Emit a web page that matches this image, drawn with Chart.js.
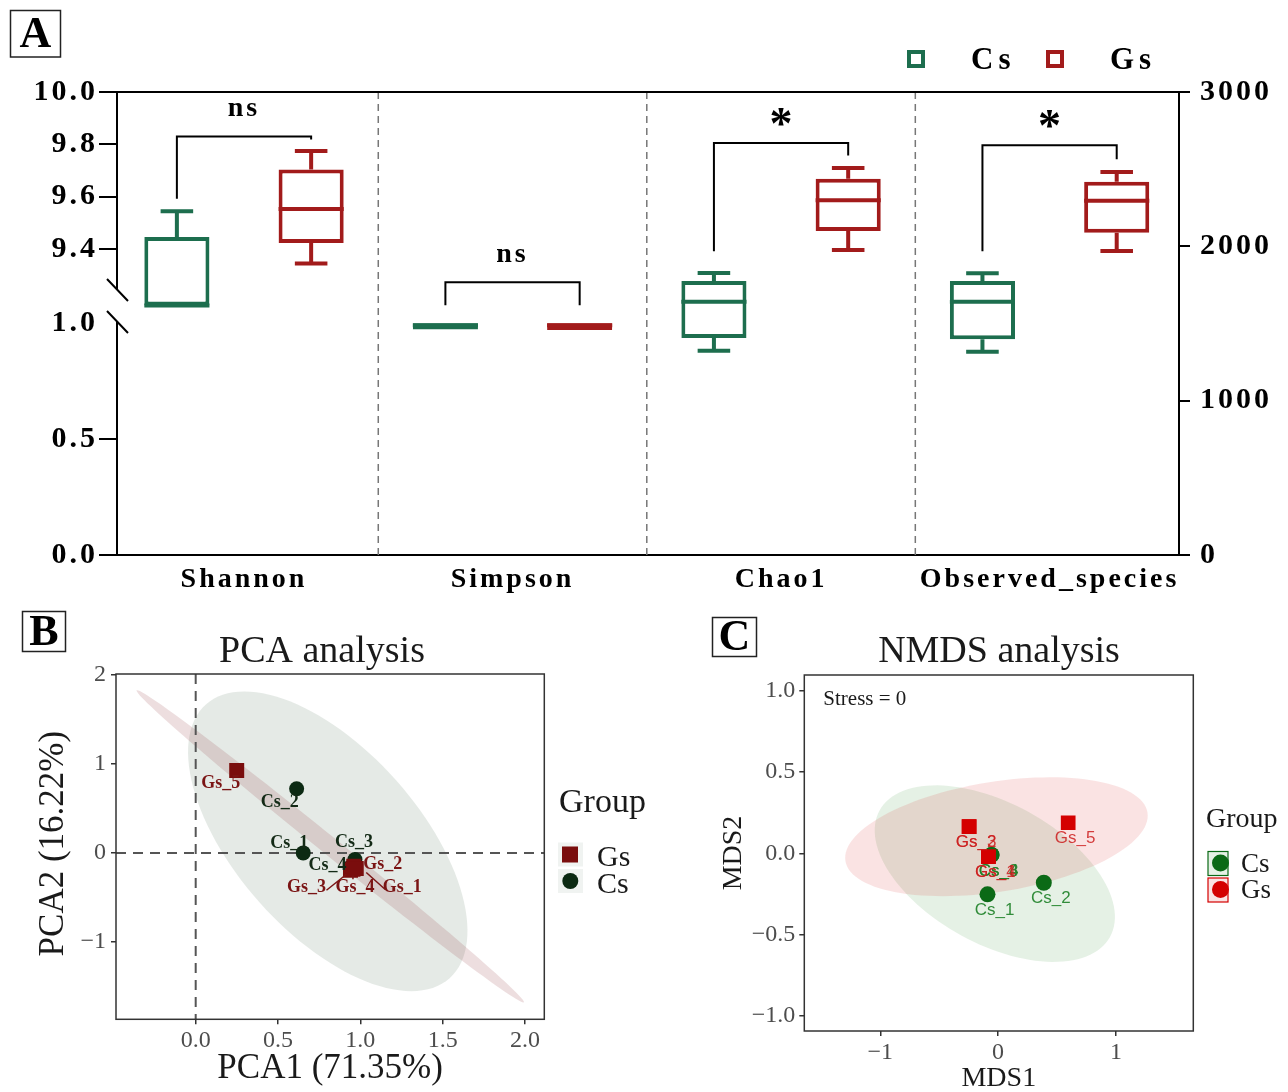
<!DOCTYPE html>
<html>
<head>
<meta charset="utf-8">
<title>Alpha / beta diversity</title>
<script src="https://cdn.jsdelivr.net/npm/chart.js@4.4.1/dist/chart.umd.min.js"></script>
<style>
  html, body { margin: 0; padding: 0; background: #ffffff; }
  #page { position: relative; width: 1288px; height: 1092px; overflow: hidden; background: #fff; }
  canvas { position: absolute; display: block; }
  #chartA { left: 0; top: 0; }
  #chartB { left: 0; top: 600px; }
  #chartC { left: 700px; top: 600px; }
</style>
</head>
<body>
<div id="page">
  <canvas id="chartA" width="1288" height="600"></canvas>
  <canvas id="chartB" width="700" height="492"></canvas>
  <canvas id="chartC" width="588" height="492"></canvas>
</div>
<script>
/* ----- data: panel A (alpha diversity) ----- */
const categories = ['Shannon', 'Simpson', 'Chao1', 'Observed_species'];
const groups = ['Cs', 'Gs'];
// [min, q1, median, q3, max]
const csBox = [
  [9.184, 9.184, 9.184, 9.446, 9.544],
  [0.972, 0.972, 0.990, 0.999, 0.999],
  [1324, 1406, 1641, 1775, 1827],
  [1317, 1398, 1641, 1775, 1825]
];
const gsBox = [
  [9.344, 9.423, 9.553, 9.704, 9.774],
  [0.970, 0.970, 0.990, 0.999, 0.999],
  [1976, 2100, 2298, 2438, 2507],
  [1969, 2088, 2296, 2418, 2482]
];
const sigLabels = ['ns', 'ns', '*', '*'];
// [bracket level, Cs leg end, Gs leg end]
const brackets = [
  [9.830, 9.592, 9.818],
  [1.175, 1.076, 1.076],
  [2670, 1968, 2589],
  [2655, 1968, 2564]
];
const leftHighTicks = [9.4, 9.6, 9.8, 10.0];
const leftLowTicks = [0, 0.5, 1.0];
const rightTicks = [0, 1000, 2000, 3000];

/* ----- data: panel B (PCA) ----- */
const pcaGsNames = ['Gs_1', 'Gs_2', 'Gs_3', 'Gs_4', 'Gs_5'];
const pcaGsPoints = [[0.975, -0.175], [0.960, -0.150], [0.940, -0.195], [0.955, -0.185], [0.249, 0.925]];
const pcaCsNames = ['Cs_1', 'Cs_2', 'Cs_3', 'Cs_4'];
const pcaCsPoints = [[0.653, 0.0], [0.613, 0.72], [0.967, -0.075], [0.940, -0.160]];
const pcaXTicks = [0, 0.5, 1, 1.5, 2];
const pcaYTicks = [-1, 0, 1, 2];
// confidence ellipses: centre + two conjugate semi-axes, in data units
const pcaEllipseCs = { center: [0.802, 0.13], a: [0.740, -1.538], b: [0.415, 0.686] };
const pcaEllipseGs = { center: [0.817, 0.074], a: [1.176, -1.753], b: [0.0343, 0.0787] };

/* ----- data: panel C (NMDS) ----- */
const nmdsGsNames = ['Gs_1', 'Gs_2', 'Gs_3', 'Gs_4', 'Gs_5'];
const nmdsGsPoints = [[-0.082, -0.021], [-0.246, 0.164], [-0.246, 0.164], [-0.082, -0.021], [0.595, 0.188]];
const nmdsCsNames = ['Cs_1', 'Cs_2', 'Cs_3', 'Cs_4'];
const nmdsCsPoints = [[-0.090, -0.252], [0.388, -0.181], [-0.056, -0.010], [-0.056, -0.010]];
const nmdsXTicks = [-1, 0, 1];
const nmdsYTicks = [-1, -0.5, 0, 0.5, 1];
const nmdsEllipseCs = { center: [-0.028, -0.125], a: [0.978, -0.389], b: [0.288, 0.379] };
const nmdsEllipseGs = { center: [-0.014, 0.102], a: [1.282, 0.149], b: [0.074, -0.334] };
const nmdsStress = 0;

/* ----- styles ----- */
const serif = "'Liberation Serif', 'Times New Roman', serif";
const sans = "'Liberation Sans', Arial, sans-serif";
const groupColors = ['#1d6e4e', '#a21b1b'];
const indexScale = ['yHigh', 'yLow', 'yRight', 'yRight'];
const minus = s => String(s).replace('-', '\u2212');

/* ----- helpers ----- */
function drawEllipse(chart, e, fill) {
  const { ctx, scales: { x, y } } = chart;
  ctx.beginPath();
  for (let k = 0; k <= 120; k++) {
    const t = (k / 120) * Math.PI * 2;
    const vx = e.center[0] + e.a[0] * Math.cos(t) + e.b[0] * Math.sin(t);
    const vy = e.center[1] + e.a[1] * Math.cos(t) + e.b[1] * Math.sin(t);
    const px = x.getPixelForValue(vx), py = y.getPixelForValue(vy);
    if (k) ctx.lineTo(px, py); else ctx.moveTo(px, py);
  }
  ctx.closePath();
  ctx.fillStyle = fill;
  ctx.fill();
}

function panelLetter(ctx, letter, x, y, w, h) {
  ctx.save();
  ctx.strokeStyle = '#222';
  ctx.lineWidth = 1.5;
  ctx.strokeRect(x, y, w, h);
  ctx.fillStyle = '#000';
  ctx.font = `bold 44px ${serif}`;
  ctx.textAlign = 'center';
  ctx.textBaseline = 'middle';
  ctx.fillText(letter, x + w / 2, y + h / 2 + 2);
  ctx.restore();
}

/* ======================= PANEL A ======================= */
const boxSets = [];
groups.forEach((g, gi) => {
  const stats = gi === 0 ? csBox : gsBox;
  ['yHigh', 'yLow', 'yRight'].forEach(axisId => {
    const pts = [];
    stats.forEach((s, i) => {
      if (indexScale[i] === axisId) pts.push({ x: i, y: [s[1], s[3]] });
    });
    boxSets.push({
      label: g, group: gi, stats, yAxisID: axisId, data: pts,
      backgroundColor: '#ffffff', borderColor: groupColors[gi], borderWidth: 4,
      borderSkipped: false, skipNull: true, categoryPercentage: 1, barPercentage: 0.485
    });
  });
});

const spacing = { id: 'spacing', beforeUpdate(c) { c.ctx.letterSpacing = '3px'; }, beforeDraw(c) { c.ctx.letterSpacing = '3px'; } };

const boxPlugin = {
  id: 'boxPlugin',
  beforeDatasetsDraw(chart) {
    const { ctx, chartArea: ca, scales: { x } } = chart;
    ctx.save();
    ctx.strokeStyle = '#777';
    ctx.lineWidth = 1.5;
    ctx.setLineDash([7, 5]);
    for (let i = 0; i < categories.length - 1; i++) {
      const px = x.getPixelForValue(i + 0.5);
      ctx.beginPath(); ctx.moveTo(px, ca.top); ctx.lineTo(px, ca.bottom); ctx.stroke();
    }
    ctx.restore();
  },
  afterDatasetsDraw(chart) {
    const ctx = chart.ctx;
    const centers = categories.map(() => []);
    chart.data.datasets.forEach((ds, di) => {
      const meta = chart.getDatasetMeta(di);
      const ys = chart.scales[ds.yAxisID];
      const py = v => ys.getPixelForValue(v);
      meta.data.forEach((bar, j) => {
        const i = ds.data[j].x;
        const s = ds.stats[i];
        const { x, width } = bar.getProps(['x', 'width'], true);
        centers[i][ds.group] = x;
        const h = width / 2, cap = width / 4;
        ctx.save();
        ctx.strokeStyle = ds.borderColor;
        ctx.lineWidth = 4;
        ctx.beginPath();
        ctx.moveTo(x - h, py(s[2])); ctx.lineTo(x + h, py(s[2]));
        if (s[4] > s[3]) {
          ctx.moveTo(x, py(s[3])); ctx.lineTo(x, py(s[4]));
          ctx.moveTo(x - cap, py(s[4])); ctx.lineTo(x + cap, py(s[4]));
        }
        if (s[0] < s[1]) {
          ctx.moveTo(x, py(s[1])); ctx.lineTo(x, py(s[0]));
          ctx.moveTo(x - cap, py(s[0])); ctx.lineTo(x + cap, py(s[0]));
        }
        ctx.stroke();
        ctx.restore();
      });
    });
    // significance brackets
    categories.forEach((c, i) => {
      const ys = chart.scales[indexScale[i]];
      const [level, leftEnd, rightEnd] = brackets[i];
      const x0 = centers[i][0], x1 = centers[i][1];
      const yb = ys.getPixelForValue(level);
      ctx.save();
      ctx.strokeStyle = '#000';
      ctx.lineWidth = 2;
      ctx.beginPath();
      ctx.moveTo(x0, ys.getPixelForValue(leftEnd));
      ctx.lineTo(x0, yb);
      ctx.lineTo(x1, yb);
      ctx.lineTo(x1, ys.getPixelForValue(rightEnd));
      ctx.stroke();
      ctx.fillStyle = '#000';
      ctx.textAlign = 'center';
      ctx.textBaseline = 'alphabetic';
      if (sigLabels[i] === '*') {
        ctx.letterSpacing = '0px';
        ctx.font = `bold 46px ${serif}`;
        ctx.fillText('*', (x0 + x1) / 2, yb - 4);
      } else {
        ctx.font = `bold 28px ${serif}`;
        ctx.fillText(sigLabels[i], (x0 + x1) / 2, yb - 20);
      }
      ctx.restore();
    });
  },
  afterDraw(chart) {
    const { ctx, chartArea: ca, scales } = chart;
    ctx.save();
    // top frame line
    ctx.strokeStyle = '#000';
    ctx.lineWidth = 2;
    ctx.beginPath(); ctx.moveTo(ca.left, ca.top); ctx.lineTo(ca.right, ca.top); ctx.stroke();
    // axis break
    const yb = scales.yHigh.bottom;
    ctx.fillStyle = '#fff';
    ctx.fillRect(ca.left - 8, yb - 16, 16, 32);
    ctx.beginPath();
    [-16, 16].forEach(d => {
      ctx.moveTo(ca.left - 10, yb + d - 11);
      ctx.lineTo(ca.left + 11, yb + d + 11);
    });
    ctx.stroke();
    // legend
    ctx.letterSpacing = '5px';
    ctx.font = `bold 31px ${serif}`;
    ctx.textBaseline = 'middle';
    ctx.textAlign = 'left';
    const lx = [ca.right - 263, ca.right - 124];
    const ly = ca.top - 33;
    groups.forEach((g, gi) => {
      ctx.strokeStyle = groupColors[gi];
      ctx.lineWidth = 4;
      ctx.strokeRect(lx[gi] - 7, ly - 7, 14, 14);
      ctx.fillStyle = '#000';
      ctx.fillText(g, lx[gi] + 55, ly + 2);
    });
    ctx.restore();
    ctx.save();
    ctx.letterSpacing = '0px';
    panelLetter(ctx, 'A', 10.5, 10.5, 50, 46.5);
    ctx.restore();
  }
};

const tickFontA = { family: serif, size: 30, weight: 'bold' };
const tickMarks = len => ({ display: true, drawOnChartArea: false, drawTicks: true, tickLength: len, color: '#000', lineWidth: 2 });

new Chart(document.getElementById('chartA'), {
  type: 'bar',
  data: { datasets: boxSets },
  options: {
    responsive: false,
    animation: false,
    events: [],
    layout: { padding: { top: 92, left: 0, right: 0, bottom: 0 } },
    plugins: { legend: { display: false }, tooltip: { enabled: false } },
    scales: {
      x: {
        type: 'linear', min: -0.473, max: 3.482, offset: false, stacked: false,
        afterBuildTicks: s => { s.ticks = categories.map((c, i) => ({ value: i })); },
        afterFit: s => { s.height = 45; },
        grid: { display: false, drawTicks: false },
        border: { display: true, color: '#000', width: 2 },
        ticks: { autoSkip: false, maxRotation: 0, padding: 8, color: '#000',
          font: { family: serif, size: 28, weight: 'bold' }, callback: v => categories[v] }
      },
      // lower segment of the broken left axis (declared first so it stacks below)
      yLow: {
        type: 'linear', position: 'left', stack: 'left', stackWeight: 249, min: 0, max: 1.073, stacked: false,
        afterBuildTicks: s => { s.ticks = leftLowTicks.map(v => ({ value: v })); },
        afterFit: s => { s.width = 117; },
        grid: Object.assign(tickMarks(18), { color: c => (c.tick && c.tick.value === 1 ? 'rgba(0,0,0,0)' : '#000') }),
        border: { display: true, color: '#000', width: 2 },
        ticks: { padding: 1, color: '#000', font: tickFontA, callback: v => v.toFixed(1) }
      },
      yHigh: {
        type: 'linear', position: 'left', stack: 'left', stackWeight: 214, min: 9.182, max: 10, stacked: false,
        afterBuildTicks: s => { s.ticks = leftHighTicks.map(v => ({ value: v })); },
        afterFit: s => { s.width = 117; },
        grid: tickMarks(18),
        border: { display: true, color: '#000', width: 2 },
        ticks: { padding: 1, color: '#000', font: tickFontA, callback: v => v.toFixed(1) }
      },
      yRight: {
        type: 'linear', position: 'right', min: 0, max: 3000, stacked: false,
        afterBuildTicks: s => { s.ticks = rightTicks.map(v => ({ value: v })); },
        afterFit: s => { s.width = 109; },
        grid: tickMarks(11),
        border: { display: true, color: '#000', width: 2 },
        ticks: { padding: 10, color: '#000', font: tickFontA, callback: v => String(v) }
      }
    }
  },
  plugins: [spacing, boxPlugin]
});

/* ======================= PANEL B ======================= */
const pcaColors = { Gs: '#7a0d0d', Cs: '#0c2a13' };
const pcaLabelColors = { Gs: '#7a1414', Cs: '#132a16' };
const pcaNudge = {
  Gs_1: [46, 19], Gs_2: [29, -2], Gs_3: [-44, 17], Gs_4: [2, 18], Gs_5: [-16, 13],
  Cs_1: [-14, -10], Cs_2: [-17, 14], Cs_3: [-1, -17], Cs_4: [-23, -2]
};
const pcaLeaders = { Gs_1: [[10, 4], [29, 21]], Gs_3: [[-4, 4], [-24, 20]], Gs_4: [[0, 6], [0, 10]] };

const pcaPlugin = {
  id: 'pcaDecor',
  beforeDatasetsDraw(chart) {
    const { ctx, chartArea: ca, scales: { x, y } } = chart;
    ctx.save();
    ctx.beginPath(); ctx.rect(ca.left, ca.top, ca.width, ca.height); ctx.clip();
    drawEllipse(chart, pcaEllipseCs, 'rgba(40,80,50,0.12)');
    drawEllipse(chart, pcaEllipseGs, 'rgba(128,20,30,0.14)');
    ctx.setLineDash([10, 7]);
    ctx.strokeStyle = '#555';
    ctx.lineWidth = 2;
    const x0 = x.getPixelForValue(0), y0 = y.getPixelForValue(0);
    ctx.beginPath();
    ctx.moveTo(x0, ca.top); ctx.lineTo(x0, ca.bottom);
    ctx.moveTo(ca.left, y0); ctx.lineTo(ca.right, y0);
    ctx.stroke();
    ctx.restore();
  },
  afterDatasetsDraw(chart) {
    const ctx = chart.ctx;
    ctx.save();
    ctx.font = `bold 18px ${serif}`;
    ctx.textAlign = 'center';
    ctx.textBaseline = 'middle';
    chart.data.datasets.forEach((ds, di) => {
      chart.getDatasetMeta(di).data.forEach((pt, j) => {
        const name = ds.names[j];
        const [dx, dy] = pcaNudge[name];
        const lead = pcaLeaders[name];
        if (lead) {
          ctx.strokeStyle = pcaLabelColors[ds.label];
          ctx.lineWidth = 1.5;
          ctx.beginPath();
          ctx.moveTo(pt.x + lead[0][0], pt.y + lead[0][1]);
          ctx.lineTo(pt.x + lead[1][0], pt.y + lead[1][1]);
          ctx.stroke();
        }
        ctx.fillStyle = pcaLabelColors[ds.label];
        ctx.fillText(name, pt.x + dx, pt.y + dy);
      });
    });
    ctx.restore();
  },
  afterDraw(chart) {
    const { ctx, chartArea: ca } = chart;
    ctx.save();
    ctx.strokeStyle = '#333';
    ctx.lineWidth = 1.5;
    ctx.strokeRect(ca.left, ca.top, ca.width, ca.height);
    ctx.fillStyle = '#1a1a1a';
    ctx.textAlign = 'center';
    ctx.textBaseline = 'middle';
    ctx.font = `35px ${serif}`;
    ctx.fillText('PCA1 (71.35%)', (ca.left + ca.right) / 2, ca.bottom + 50);
    ctx.save();
    ctx.translate(54, (ca.top + ca.bottom) / 2 - 3);
    ctx.rotate(-Math.PI / 2);
    ctx.fillText('PCA2 (16.22%)', 0, 0);
    ctx.restore();
    ctx.textBaseline = 'alphabetic';
    ctx.font = `38px ${serif}`;
    ctx.fillText('PCA analysis', 322, 62);
    // legend
    ctx.textAlign = 'left';
    ctx.textBaseline = 'middle';
    ctx.font = `34px ${serif}`;
    ctx.fillText('Group', 559, 203);
    ctx.font = `30px ${serif}`;
    const keys = [['Gs', 'rect', 254.5], ['Cs', 'circle', 281]];
    keys.forEach(([g, style, ky]) => {
      ctx.fillStyle = 'rgba(40,80,50,0.07)';
      ctx.fillRect(558, ky - 12, 25, 24);
      ctx.fillStyle = pcaColors[g];
      if (style === 'rect') ctx.fillRect(562, ky - 8, 16, 16);
      else { ctx.beginPath(); ctx.arc(570.3, ky, 8, 0, Math.PI * 2); ctx.fill(); }
      ctx.fillStyle = '#1a1a1a';
      ctx.fillText(g, 597, ky + 4);
    });
    ctx.restore();
    panelLetter(ctx, 'B', 22.5, 11.5, 43, 40);
  }
};

const axisTicksBC = len => ({
  grid: { display: true, drawOnChartArea: false, drawTicks: true, tickLength: len, color: '#333', lineWidth: 1.5 },
  border: { display: false }
});

new Chart(document.getElementById('chartB'), {
  type: 'scatter',
  data: {
    datasets: [
      { label: 'Gs', names: pcaGsNames, data: pcaGsPoints.map(([x, y]) => ({ x, y })),
        pointStyle: 'rect', pointRadius: 10.6, backgroundColor: pcaColors.Gs, borderColor: pcaColors.Gs, borderWidth: 0 },
      { label: 'Cs', names: pcaCsNames, data: pcaCsPoints.map(([x, y]) => ({ x, y })),
        pointStyle: 'circle', pointRadius: 7.5, backgroundColor: pcaColors.Cs, borderColor: pcaColors.Cs, borderWidth: 0 }
    ]
  },
  options: {
    responsive: false,
    animation: false,
    events: [],
    layout: { padding: { top: 74, right: 155.7, left: 0, bottom: 0 } },
    plugins: { legend: { display: false }, tooltip: { enabled: false } },
    scales: {
      x: Object.assign(axisTicksBC(5), {
        type: 'linear', min: -0.484, max: 2.117,
        afterBuildTicks: s => { s.ticks = pcaXTicks.map(v => ({ value: v })); },
        afterFit: s => { s.height = 72.7; },
        ticks: { padding: 2, color: '#4d4d4d', font: { family: serif, size: 24 }, callback: v => minus(v.toFixed(1)) }
      }),
      y: Object.assign(axisTicksBC(5), {
        type: 'linear', min: -1.87, max: 2.01,
        afterBuildTicks: s => { s.ticks = pcaYTicks.map(v => ({ value: v })); },
        afterFit: s => { s.width = 116; },
        ticks: { padding: 5, color: '#4d4d4d', font: { family: serif, size: 24 }, callback: v => minus(v) }
      })
    }
  },
  plugins: [pcaPlugin]
});

/* ======================= PANEL C ======================= */
const nmdsColors = { Gs: '#d40000', Cs: '#0b6a16' };
const nmdsLabelColors = { Gs: 'rgba(205,30,30,0.85)', Cs: 'rgba(30,130,40,0.9)' };

const nmdsPlugin = {
  id: 'nmdsDecor',
  beforeDatasetsDraw(chart) {
    const { ctx, chartArea: ca } = chart;
    ctx.save();
    ctx.beginPath(); ctx.rect(ca.left, ca.top, ca.width, ca.height); ctx.clip();
    drawEllipse(chart, nmdsEllipseCs, 'rgba(40,140,40,0.12)');
    drawEllipse(chart, nmdsEllipseGs, 'rgba(220,40,40,0.13)');
    ctx.restore();
  },
  afterDatasetsDraw(chart) {
    const ctx = chart.ctx;
    ctx.save();
    ctx.font = `17px ${sans}`;
    ctx.textAlign = 'center';
    ctx.textBaseline = 'middle';
    // Cs labels first so the Gs labels sit on top
    [1, 0].forEach(di => {
      const ds = chart.data.datasets[di];
      chart.getDatasetMeta(di).data.forEach((pt, j) => {
        ctx.fillStyle = nmdsLabelColors[ds.label];
        ctx.fillText(ds.names[j], pt.x + 7, pt.y + 16);
      });
    });
    ctx.restore();
  },
  afterDraw(chart) {
    const { ctx, chartArea: ca } = chart;
    ctx.save();
    ctx.strokeStyle = '#333';
    ctx.lineWidth = 1.5;
    ctx.strokeRect(ca.left, ca.top, ca.width, ca.height);
    ctx.fillStyle = '#1a1a1a';
    ctx.textAlign = 'left';
    ctx.textBaseline = 'middle';
    ctx.font = `21px ${serif}`;
    ctx.fillText('Stress = ' + nmdsStress, ca.left + 19, ca.top + 24);
    ctx.textAlign = 'center';
    ctx.font = `28px ${serif}`;
    ctx.fillText('MDS1', (ca.left + ca.right) / 2, ca.bottom + 48);
    ctx.save();
    ctx.translate(34, (ca.top + ca.bottom) / 2);
    ctx.rotate(-Math.PI / 2);
    ctx.fillText('MDS2', 0, 0);
    ctx.restore();
    ctx.textBaseline = 'alphabetic';
    ctx.font = `38px ${serif}`;
    ctx.fillText('NMDS analysis', 299, 62);
    // legend
    ctx.textAlign = 'left';
    ctx.textBaseline = 'middle';
    ctx.font = `28px ${serif}`;
    ctx.fillText('Group', 506, 220);
    ctx.font = `27px ${serif}`;
    const keys = [['Cs', 263.5, 'rgba(40,140,40,0.12)'], ['Gs', 290, 'rgba(220,40,40,0.13)']];
    keys.forEach(([g, ky, bg]) => {
      ctx.fillStyle = bg;
      ctx.fillRect(508, ky - 12, 20, 24);
      ctx.strokeStyle = nmdsColors[g];
      ctx.lineWidth = 1.2;
      ctx.strokeRect(508, ky - 12, 20, 24);
      ctx.fillStyle = nmdsColors[g];
      ctx.beginPath(); ctx.arc(520.5, ky - 0.5, 8.5, 0, Math.PI * 2); ctx.fill();
      ctx.fillStyle = '#1a1a1a';
      ctx.fillText(g, 541, ky + 1);
    });
    ctx.restore();
    panelLetter(ctx, 'C', 12.5, 17.5, 44, 39);
  }
};

new Chart(document.getElementById('chartC'), {
  type: 'scatter',
  data: {
    datasets: [
      { label: 'Gs', names: nmdsGsNames, data: nmdsGsPoints.map(([x, y]) => ({ x, y })),
        pointStyle: 'rect', pointRadius: 10.4, backgroundColor: nmdsColors.Gs, borderColor: nmdsColors.Gs, borderWidth: 0 },
      { label: 'Cs', names: nmdsCsNames, data: nmdsCsPoints.map(([x, y]) => ({ x, y })),
        pointStyle: 'circle', pointRadius: 8, backgroundColor: nmdsColors.Cs, borderColor: nmdsColors.Cs, borderWidth: 0 }
    ]
  },
  options: {
    responsive: false,
    animation: false,
    events: [],
    layout: { padding: { top: 75, right: 94.7, left: 0, bottom: 0 } },
    plugins: { legend: { display: false }, tooltip: { enabled: false } },
    scales: {
      x: Object.assign(axisTicksBC(5), {
        type: 'linear', min: -1.645, max: 1.657,
        afterBuildTicks: s => { s.ticks = nmdsXTicks.map(v => ({ value: v })); },
        afterFit: s => { s.height = 61; },
        ticks: { padding: 2, color: '#4d4d4d', font: { family: serif, size: 24 }, callback: v => minus(v) }
      }),
      y: Object.assign(axisTicksBC(5), {
        type: 'linear', min: -1.093, max: 1.097,
        afterBuildTicks: s => { s.ticks = nmdsYTicks.map(v => ({ value: v })); },
        afterFit: s => { s.width = 104.3; },
        ticks: { padding: 4, color: '#4d4d4d', font: { family: serif, size: 24 }, callback: v => minus(v.toFixed(1)) }
      })
    }
  },
  plugins: [nmdsPlugin]
});
</script>
</body>
</html>
